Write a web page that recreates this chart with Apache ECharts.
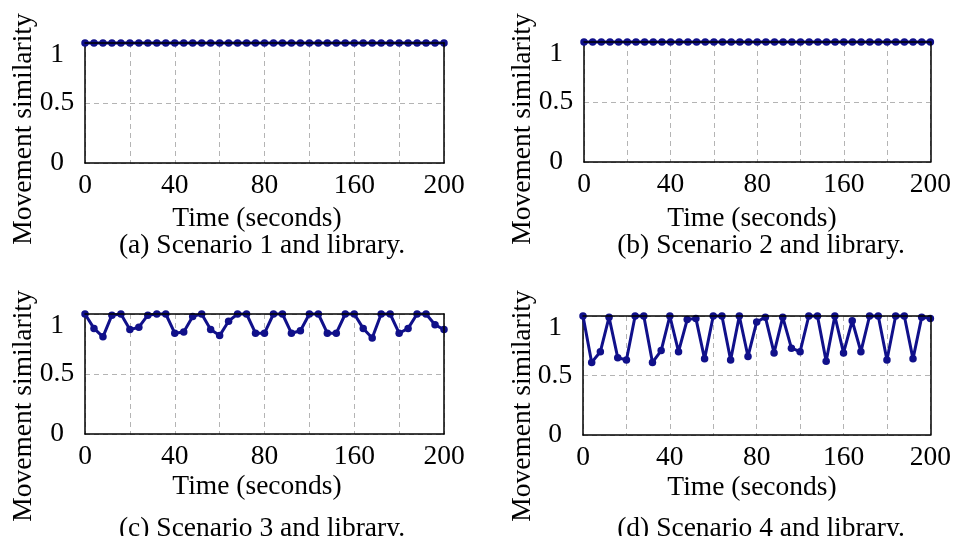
<!DOCTYPE html>
<html>
<head>
<meta charset="utf-8">
<script src="https://cdn.jsdelivr.net/npm/echarts@6/dist/echarts.min.js"></script>
<style>
html,body{margin:0;padding:0;background:#fff;}
#chart{width:954px;height:536px;}
</style>
</head>
<body>
<div id="chart"></div>
<script>
// Time samples (axis units)
const times = [0,5,10,15,20,25,30,35,40,45,50,55,60,65,70,75,80,85,90,95,100,105,110,115,120,125,130,135,140,145,150,155,160,165,170,175,180,185,190,195,200];
// Tick positions and their printed labels
const xTickValues = [0,50,100,150,200];
const xTickLabels = ['0','40','80','160','200'];
const yTickValues = [0,0.5,1];
const yTickLabels = ['0','0.5','1'];
// Movement similarity per scenario
const scenario1 = [1,1,1,1,1,1,1,1,1,1,1,1,1,1,1,1,1,1,1,1,1,1,1,1,1,1,1,1,1,1,1,1,1,1,1,1,1,1,1,1,1];
const scenario2 = [1,1,1,1,1,1,1,1,1,1,1,1,1,1,1,1,1,1,1,1,1,1,1,1,1,1,1,1,1,1,1,1,1,1,1,1,1,1,1,1,1];
const scenario3 = [1.0,0.88,0.81,0.99,1.0,0.87,0.89,0.99,1.0,1.0,0.84,0.85,0.98,1.0,0.87,0.82,0.94,1.0,1.0,0.84,0.84,1.0,1.0,0.84,0.86,1.0,1.0,0.84,0.84,1.0,1.0,0.88,0.80,1.0,1.0,0.84,0.88,1.0,1.0,0.91,0.87];
const scenario4 = [1.0,0.61,0.70,0.99,0.65,0.63,1.0,1.0,0.61,0.71,1.0,0.70,0.97,0.98,0.64,1.0,1.0,0.63,1.0,0.66,0.95,0.99,0.69,0.99,0.73,0.70,1.0,1.0,0.62,1.0,0.69,0.96,0.70,1.0,1.0,0.63,1.0,1.0,0.64,0.99,0.98];
const captions = ['(a) Scenario 1 and library.','(b) Scenario 2 and library.','(c) Scenario 3 and library.','(d) Scenario 4 and library.'];
const xName = 'Time (seconds)';
const yName = 'Movement similarity';

const FONT = '"Liberation Serif", "Times New Roman", serif';
const FS = 27.5;
const LINE = '#10108a';

const grids = [
  {left:85, top:43, width:359, height:120},
  {left:584, top:42, width:359, height:120},
  {left:85, top:314, width:359, height:120},
  {left:583, top:316, width:359, height:119}
];
const panels = [scenario1, scenario2, scenario3, scenario4];
const textPos = [
  {yx:24, yy:129, xx:257, xy:219, cx:262, cy:246},
  {yx:523, yy:129, xx:752, xy:219, cx:761, cy:246},
  {yx:24, yy:406, xx:257, xy:487, cx:262, cy:529},
  {yx:523, yy:406, xx:752, xy:488, cx:761, cy:529}
];

const xAxes = [], yAxes = [], series = [], graphics = [];
grids.forEach((g, k) => {
  xAxes.push({
    type:'value', gridIndex:k, min:0, max:200, interval:25,
    axisLine:{show:true, onZero:false, lineStyle:{color:'#000', width:1.5}},
    axisTick:{show:false},
    splitLine:{show:true, lineStyle:{color:'#b4b4b4', type:[5,4], width:1}},
    axisLabel:{
      margin:9, color:'#000', fontFamily:FONT, fontSize:FS,
      formatter: v => { const i = xTickValues.indexOf(v); return i >= 0 ? xTickLabels[i] : ''; }
    }
  });
  yAxes.push({
    type:'value', gridIndex:k, min:0, max:1, interval:0.5,
    axisLine:{show:true, lineStyle:{color:'#000', width:1.5}},
    axisTick:{show:false},
    splitLine:{show:true, lineStyle:{color:'#b4b4b4', type:[5,4], width:1}},
    axisLabel:{
      margin:28, align:'center', color:'#000', fontFamily:FONT, fontSize:FS,
      formatter: v => {
        const i = yTickValues.indexOf(v);
        const s = i >= 0 ? yTickLabels[i] : '';
        return v === 1 ? '{d|' + s + '}' : s;
      },
      rich:{d:{padding:[24,0,0,0], fontFamily:FONT, fontSize:FS, color:'#000'}}
    }
  });
  series.push({
    type:'line', xAxisIndex:k, yAxisIndex:k,
    data: times.map((t, i) => [t, panels[k][i]]),
    symbol:'circle', symbolSize:7.5, showSymbol:true, clip:false,
    lineStyle:{color:LINE, width:3},
    itemStyle:{color:LINE},
    z:2,
    animation:false
  });
  const p = textPos[k];
  graphics.push({
    type:'text', x:p.yx, y:p.yy, rotation:Math.PI/2,
    style:{text:yName, fontFamily:FONT, fontSize:FS, fill:'#000', align:'center', verticalAlign:'middle'}
  });
  graphics.push({
    type:'text', x:p.xx, y:p.xy,
    style:{text:xName, fontFamily:FONT, fontSize:FS, fill:'#000', align:'center', verticalAlign:'middle'}
  });
  graphics.push({
    type:'text', x:p.cx, y:p.cy,
    style:{text:captions[k], fontFamily:FONT, fontSize:FS, fill:'#000', align:'center', verticalAlign:'middle'}
  });
});
// frame axes (top / right edges), drawn above the data
grids.forEach((g, k) => {
  xAxes.push({
    type:'value', gridIndex:k, position:'top', min:0, max:200, z:5,
    axisLine:{show:true, onZero:false, lineStyle:{color:'#000', width:1.5}},
    axisTick:{show:false}, axisLabel:{show:false}, splitLine:{show:false}
  });
  yAxes.push({
    type:'value', gridIndex:k, position:'right', min:0, max:1, z:5,
    axisLine:{show:true, onZero:false, lineStyle:{color:'#000', width:1.5}},
    axisTick:{show:false}, axisLabel:{show:false}, splitLine:{show:false}
  });
});

const chart = echarts.init(document.getElementById('chart'), null, {renderer:'canvas'});
chart.setOption({
  animation:false,
  backgroundColor:'#fff',
  grid: grids.map(g => Object.assign({show:false}, g)),
  xAxis: xAxes,
  yAxis: yAxes,
  series: series,
  graphic: graphics
});
</script>
</body>
</html>
